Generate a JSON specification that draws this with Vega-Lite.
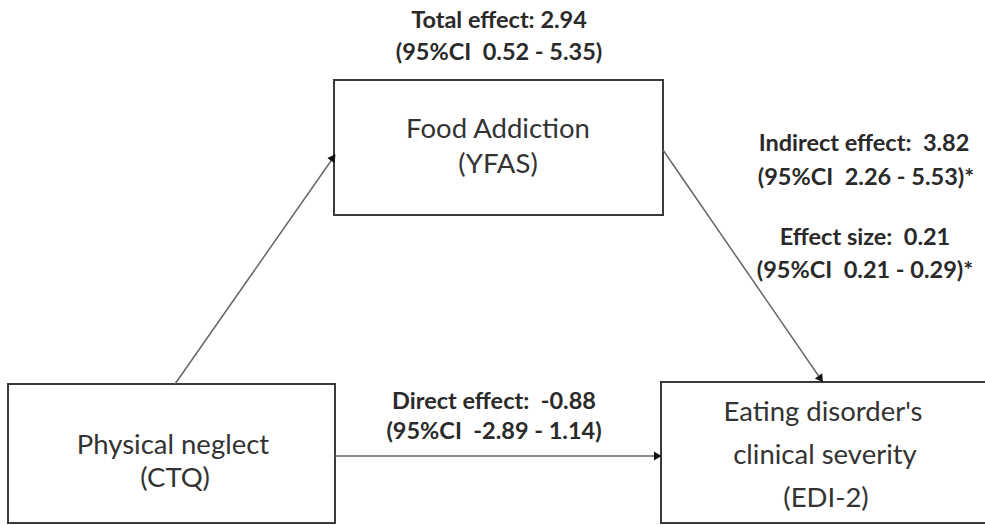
{
  "$schema": "https://vega.github.io/schema/vega-lite/v6.json",
  "width": 985,
  "height": 525,
  "padding": 0,
  "autosize": {"type": "none"},
  "background": "white",
  "config": {"view": {"stroke": null}},
  "datasets": {
    "boxes": [
      {"box": "Physical neglect", "x1": 8, "x2": 335, "y1": 384, "y2": 523},
      {"box": "Food Addiction", "x1": 334, "x2": 663, "y1": 80, "y2": 215},
      {"box": "Eating disorder", "x1": 661, "x2": 995, "y1": 382, "y2": 523}
    ],
    "arrows": [
      {"path": "a", "x1": 175, "y1": 384, "x2": 333, "y2": 158},
      {"path": "b", "x1": 663, "y1": 150, "x2": 820, "y2": 378},
      {"path": "c", "x1": 335, "y1": 456, "x2": 657, "y2": 456}
    ],
    "heads": [
      {"path": "a", "x": 332.5, "y": 158.5, "angle": 35},
      {"path": "b", "x": 820, "y": 378, "angle": 145},
      {"path": "c", "x": 656.5, "y": 456, "angle": 90}
    ],
    "labels": [
      {"label": "Food Addiction", "x": 498, "y": 130},
      {"label": "(YFAS)", "x": 498, "y": 165},
      {"label": "Physical neglect", "x": 173, "y": 446},
      {"label": "(CTQ)", "x": 175, "y": 479},
      {"label": "Eating disorder's", "x": 823, "y": 413},
      {"label": "clinical severity", "x": 825, "y": 456},
      {"label": "(EDI-2)", "x": 826, "y": 499}
    ],
    "notes": [
      {"label": "Total effect: 2.94", "x": 499, "y": 21},
      {"label": "(95%CI\u00a0 0.52 - 5.35)", "x": 499, "y": 53},
      {"label": "Indirect effect:\u00a0 3.82", "x": 864, "y": 144},
      {"label": "(95%CI\u00a0 2.26 - 5.53)*", "x": 866, "y": 178},
      {"label": "Effect size:\u00a0 0.21", "x": 865, "y": 238},
      {"label": "(95%CI\u00a0 0.21 - 0.29)*", "x": 865, "y": 271},
      {"label": "Direct effect:\u00a0 -0.88", "x": 494, "y": 402},
      {"label": "(95%CI\u00a0 -2.89 - 1.14)", "x": 494, "y": 432}
    ]
  },
  "layer": [
    {
      "data": {"name": "boxes"},
      "mark": {"type": "rect", "fill": "white", "stroke": "#3a3a3a", "strokeWidth": 2},
      "encoding": {
        "x": {"field": "x1", "type": "quantitative", "scale": {"domain": [0, 985], "nice": false, "zero": false}, "axis": null},
        "x2": {"field": "x2"},
        "y": {"field": "y1", "type": "quantitative", "scale": {"domain": [0, 525], "nice": false, "zero": false, "reverse": true}, "axis": null},
        "y2": {"field": "y2"}
      }
    },
    {
      "data": {"name": "arrows"},
      "mark": {"type": "rule", "stroke": "#666666", "strokeWidth": 1.5},
      "encoding": {
        "x": {"field": "x1", "type": "quantitative"},
        "x2": {"field": "x2"},
        "y": {"field": "y1", "type": "quantitative"},
        "y2": {"field": "y2"}
      }
    },
    {
      "data": {"name": "heads"},
      "mark": {"type": "point", "shape": "triangle", "filled": true, "fill": "#111111", "opacity": 1, "size": 80, "strokeWidth": 0},
      "encoding": {
        "x": {"field": "x", "type": "quantitative"},
        "y": {"field": "y", "type": "quantitative"},
        "angle": {"field": "angle", "type": "quantitative", "scale": null}
      }
    },
    {
      "data": {"name": "labels"},
      "mark": {"type": "text", "font": "Lato", "fontSize": 27.5, "color": "#333333", "align": "center", "baseline": "middle"},
      "encoding": {
        "x": {"field": "x", "type": "quantitative"},
        "y": {"field": "y", "type": "quantitative"},
        "text": {"field": "label"}
      }
    },
    {
      "data": {"name": "notes"},
      "mark": {"type": "text", "font": "Lato", "fontSize": 23.5, "fontWeight": "bold", "color": "#2a2a2a", "align": "center", "baseline": "middle"},
      "encoding": {
        "x": {"field": "x", "type": "quantitative"},
        "y": {"field": "y", "type": "quantitative"},
        "text": {"field": "label"}
      }
    }
  ]
}
